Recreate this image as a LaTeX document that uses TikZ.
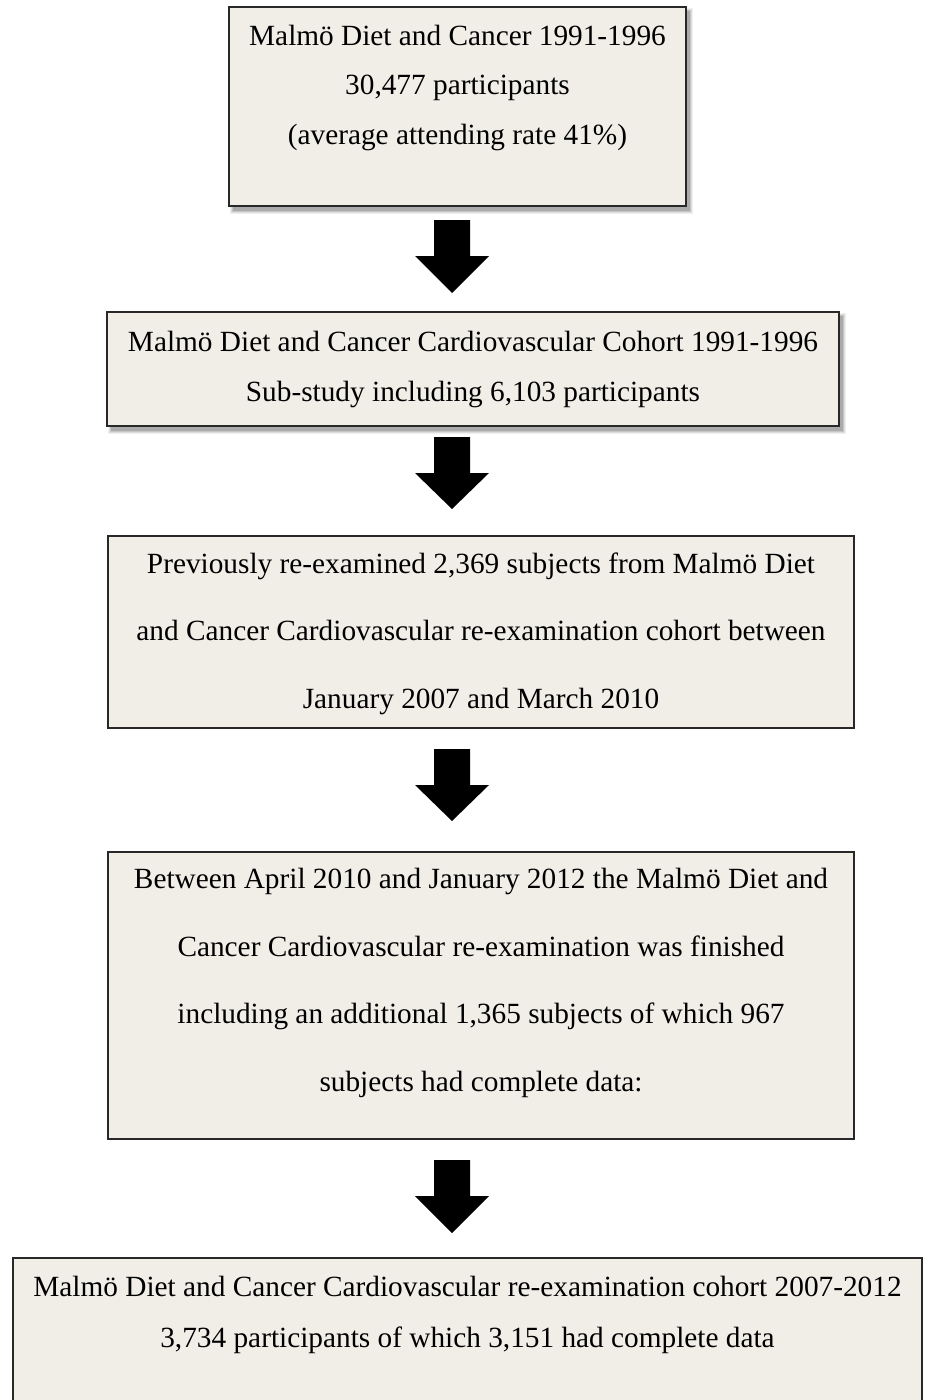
\documentclass[tikz,border=0pt]{standalone}
\usepackage{fontspec}
\setmainfont{Liberation Serif}
\usetikzlibrary{calc}
\definecolor{boxfill}{RGB}{240,238,231}
\definecolor{boxline}{RGB}{40,40,40}
\tikzset{
  box/.style={draw=boxline, line width=1.3pt, fill=boxfill, rectangle, inner sep=0pt},
  txt/.style={anchor=base, inner sep=0pt, font=\fontsize{29.3}{35}\selectfont, text=black},
}
\newcommand{\blkarrow}[2]{%
  \fill[black] ($(#1)+(-18,0)$) -- ($(#1)+(18,0)$) -- ($(#1)+(18,36)$) -- ($(#1)+(37,36)$)
    -- (#2) -- ($(#1)+(-37,36)$) -- ($(#1)+(-18,36)$) -- cycle;}
\newcommand{\softshadow}[2]{%
  \foreach \e/\o in {3/0.06,2/0.08,1/0.10,0/0.14}{
    \fill[black, opacity=\o] ($(#1)+(4-\e,4-\e)$) rectangle ($(#2)+(4+\e,5+\e)$);}}
\begin{document}
\begin{tikzpicture}[x=1pt,y=-1pt]
\useasboundingbox (0,0) rectangle (924,1400);
\clip (0,0) rectangle (924,1400);
% box 1
\softshadow{229,7}{686,206}
\node[box, minimum width=457pt, minimum height=199pt] (b1) at (457.5,106.5) {};
\node[txt] (t1a) at (457.5,45) {Malmö Diet and Cancer 1991-1996};
\node[txt] (t1b) at (457.5,94.5) {30,477 participants};
\node[txt] (t1c) at (457.5,144) {(average attending rate 41\%)};
% box 2
\softshadow{107,312}{839,426}
\node[box, minimum width=732pt, minimum height=114pt] (b2) at (473,369) {};
\node[txt] (t2a) at (473,351) {Malmö Diet and Cancer Cardiovascular Cohort 1991-1996};
\node[txt] (t2b) at (473,401) {Sub-study including 6,103 participants};
% box 3
\node[box, minimum width=746pt, minimum height=192pt] (b3) at (481,632) {};
\node[txt] (t3a) at (481,573) {Previously re-examined 2,369 subjects from Malmö Diet};
\node[txt] (t3b) at (481,640.5) {and Cancer Cardiovascular re-examination cohort between};
\node[txt] (t3c) at (481,708) {January 2007 and March 2010};
% box 4
\node[box, minimum width=746pt, minimum height=287pt] (b4) at (481,995.5) {};
\node[txt] (t4a) at (481,888) {Between April 2010 and January 2012 the Malmö Diet and};
\node[txt] (t4b) at (481,956) {Cancer Cardiovascular re-examination was finished};
\node[txt] (t4c) at (481,1023.5) {including an additional 1,365 subjects of which 967};
\node[txt] (t4d) at (481,1091) {subjects had complete data:};
% box 5
\node[box, minimum width=909pt, minimum height=160pt] (b5) at (467.5,1338) {};
\node[txt] (t5a) at (467.5,1296) {Malmö Diet and Cancer Cardiovascular re-examination cohort 2007-2012};
\node[txt] (t5b) at (467.5,1347) {3,734 participants of which 3,151 had complete data};
% arrows
\coordinate (a1s) at (452,220);  \coordinate (a1e) at (452,293);
\coordinate (a2s) at (452,437);  \coordinate (a2e) at (452,509);
\coordinate (a3s) at (452,749);  \coordinate (a3e) at (452,821);
\coordinate (a4s) at (452,1160); \coordinate (a4e) at (452,1233);
\blkarrow{a1s}{a1e}
\blkarrow{a2s}{a2e}
\blkarrow{a3s}{a3e}
\blkarrow{a4s}{a4e}
\end{tikzpicture}
\end{document}
